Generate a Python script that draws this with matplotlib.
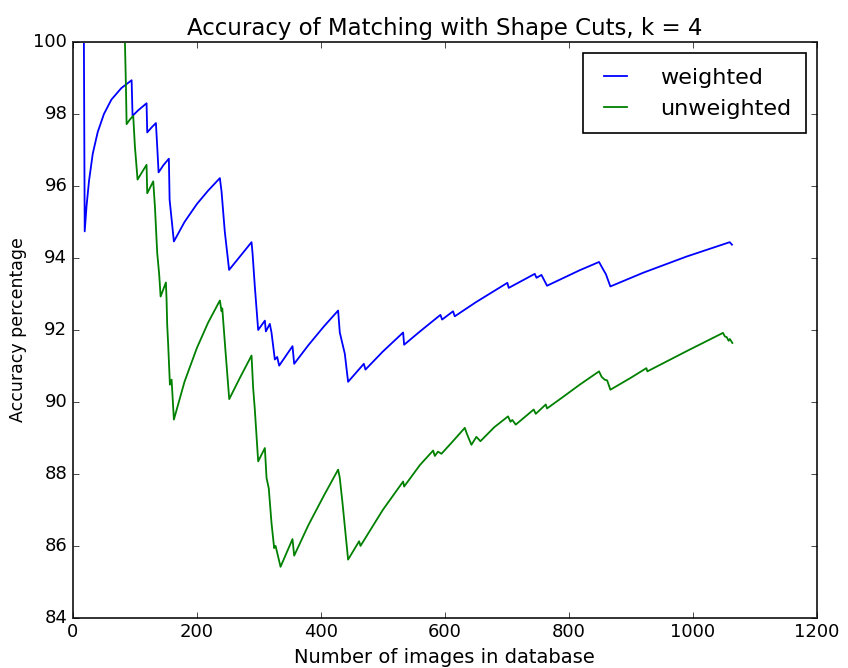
import matplotlib
matplotlib.use("Agg")
import matplotlib.pyplot as plt

# weighted: (number of images, accuracy %)
w_n = [1, 17.7, 19, 22, 26, 32, 40, 50, 62, 78, 94.7, 96.2, 105, 118.8, 119.9, 127, 133.9,
       136, 138.2, 146, 154.8, 156, 162.9, 180, 200, 218, 237.1, 239.8, 245, 252, 269.4,
       288.2, 289.8, 293.5, 298.9, 309.7, 311.3, 317.7, 320.4, 325.8, 329.6, 332.8, 354.3,
       357, 380, 405, 427.9, 430.6, 438.7, 444, 469.4, 472, 500, 532.8, 534.4, 560, 593,
       595.7, 613.4, 616.1, 650, 701, 703.2, 745.2, 748, 756, 765, 817.7, 848.9, 855, 860,
       867.2, 920, 990, 1059.7, 1063.4]
w_acc = [100, 100, 94.74, 95.45, 96.15, 96.9, 97.5, 98.0, 98.4, 98.72, 98.94, 97.95, 98.1,
         98.3, 97.49, 97.63, 97.75, 97.1, 96.38, 96.58, 96.76, 95.62, 94.46, 95.0, 95.5,
         95.87, 96.22, 95.85, 94.74, 93.67, 94.04, 94.44, 94.14, 93.21, 92.0, 92.26, 91.96,
         92.17, 91.93, 91.18, 91.25, 91.01, 91.55, 91.06, 91.58, 92.1, 92.54, 91.93, 91.34,
         90.56, 91.06, 90.9, 91.4, 91.93, 91.59, 91.96, 92.42, 92.29, 92.52, 92.38, 92.77,
         93.31, 93.17, 93.56, 93.45, 93.53, 93.23, 93.66, 93.89, 93.7, 93.55, 93.21, 93.59,
         94.04, 94.44, 94.37]

# unweighted
u_n = [1, 83.9, 85.5, 86.6, 92, 97.3, 100, 104.3, 112, 118.8, 119.9, 129.6, 132.3, 136,
       139.2, 141.5, 150, 151.1, 152.1, 153.7, 156.5, 159.2, 162.9, 180, 200, 218, 237.1,
       239.8, 241, 246, 252.2, 269.4, 288.2, 290.8, 293.5, 298.9, 309.7, 312.4, 316, 320.4,
       324.7, 327, 335, 354.3, 357, 380, 405, 427.9, 430.5, 435, 444, 461.8, 464, 500, 532.8,
       534.4, 560, 581.2, 584, 589, 594.6, 610, 632.3, 636, 643, 651, 657.5, 680, 702.1, 706,
       709, 714.5, 743.5, 746.8, 762.9, 765, 790, 817.7, 848.9, 853, 858, 862, 867.2, 900,
       925.3, 926.9, 990, 1048.9, 1052, 1055, 1058, 1060, 1064]
u_acc = [100, 100, 98.8, 97.72, 97.85, 97.95, 97.1, 96.18, 96.4, 96.59, 95.8, 96.13, 95.43,
         94.14, 93.54, 92.93, 93.32, 92.84, 92.15, 91.59, 90.48, 90.62, 89.51, 90.56, 91.5,
         92.2, 92.82, 92.52, 92.6, 91.45, 90.08, 90.67, 91.29, 90.39, 89.79, 88.35, 88.72,
         87.89, 87.6, 86.64, 85.94, 86.0, 85.42, 86.19, 85.73, 86.58, 87.4, 88.12, 87.9,
         87.19, 85.62, 86.13, 86.0, 87.0, 87.79, 87.65, 88.25, 88.65, 88.5, 88.62, 88.56,
         88.85, 89.28, 89.1, 88.81, 89.03, 88.91, 89.3, 89.6, 89.45, 89.5, 89.37, 89.79,
         89.67, 89.93, 89.82, 90.13, 90.48, 90.85, 90.7, 90.62, 90.6, 90.34, 90.67, 90.94,
         90.85, 91.41, 91.92, 91.82, 91.8, 91.7, 91.75, 91.64]

plt.style.use('classic')
plt.rcParams['font.family'] = ['DejaVu Sans']

fig = plt.figure(figsize=(8.48, 6.68), dpi=100, facecolor='white')
ax = fig.add_axes([0.086, 0.075, 0.877, 0.862])

ax.plot(w_n, w_acc, color='b', lw=1.3, label='weighted')
ax.plot(u_n, u_acc, color='g', lw=1.3, label='unweighted')

ax.set_xlim(0, 1200)
ax.set_ylim(84, 100)
ax.set_xticks(range(0, 1201, 200))
ax.set_yticks(range(84, 101, 2))
ax.tick_params(labelsize=13)
for s in ax.spines.values():
    s.set_linewidth(1.4)
    s.set_edgecolor('#333333')

ax.set_title('Accuracy of Matching with Shape Cuts, k = 4', fontsize=16.5)
ax.set_xlabel('Number of images in database', fontsize=14)
ax.set_ylabel('Accuracy percentage', fontsize=12.5)

leg = ax.legend(loc='upper right', fontsize=16, handlelength=1.6, handletextpad=1.2,
                borderpad=0.65, labelspacing=0.5, borderaxespad=0.5)
leg.get_frame().set_linewidth(1.2)

fig.savefig('out.png', dpi=100, facecolor='white')
